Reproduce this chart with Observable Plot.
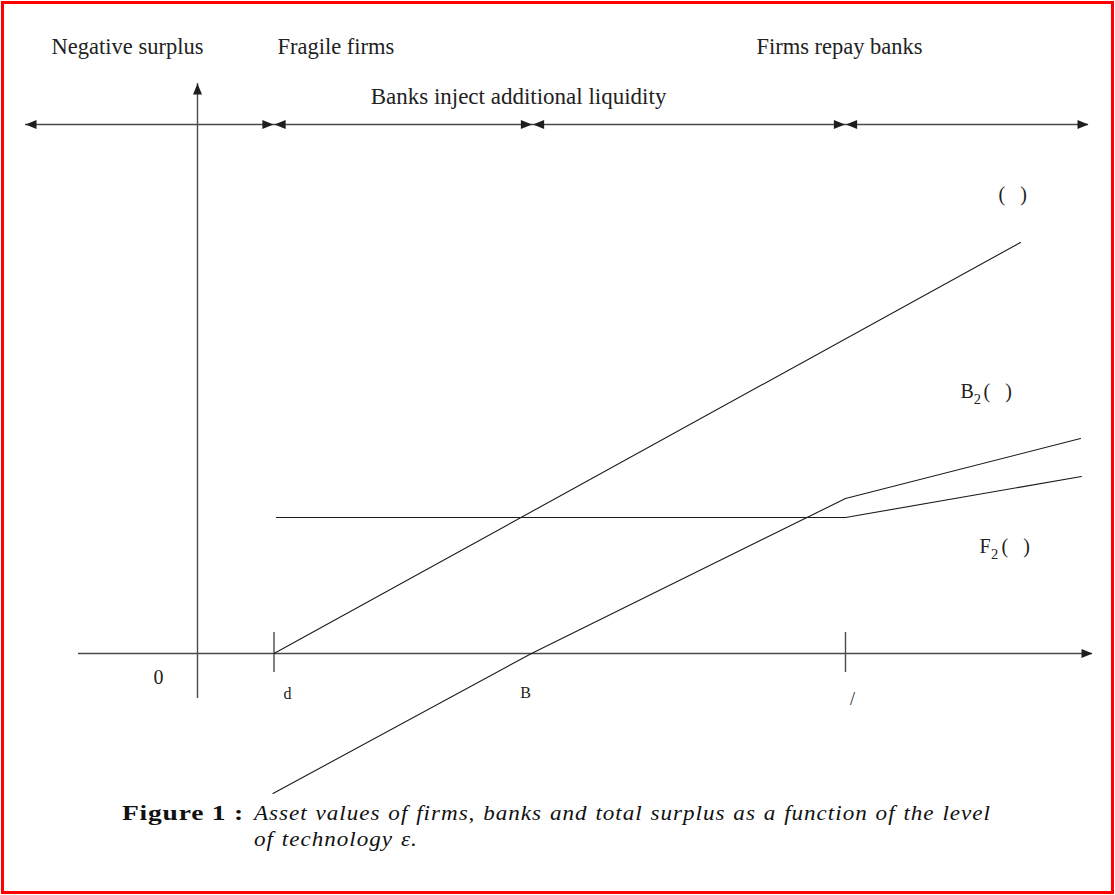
<!DOCTYPE html>
<html>
<head>
<meta charset="utf-8">
<script src="https://cdn.jsdelivr.net/npm/d3@7"></script>
<script src="https://cdn.jsdelivr.net/npm/@observablehq/plot@0.6"></script>
<style>
  body { margin: 0; background: #fff; }
  #chart { position: absolute; left: 0; top: 0; }
  #frame { position: absolute; left: 1px; top: 1px; width: 1107px; height: 887px; border: 3px solid #ff0000; z-index: 2; pointer-events: none; }
  #caption { position: absolute; left: 122px; top: 800px; font-family: "Liberation Serif", serif; font-size: 21px; line-height: 26px; color: #111; }
  #caption .lab { position: absolute; left: 0; top: 0; font-weight: bold; white-space: nowrap; transform-origin: 0 0; letter-spacing: 0.6px; }
  #caption .txt { position: absolute; left: 132px; top: 0; font-style: italic; white-space: nowrap; transform-origin: 0 0; letter-spacing: 0.9px; word-spacing: 1px; }
  #caption .txt span { display: block; width: max-content; }
</style>
</head>
<body>
<div id="chart"></div>
<div id="caption">
  <span class="lab" id="capLab">Figure 1 :</span>
  <span class="txt" id="capTxt"><span id="capL1">Asset values of firms, banks and total surplus as a function of the level</span><span id="capL2">of technology ε.</span></span>
</div>
<div id="frame"></div>
<script>
// ---- data (arbitrary units: 1 unit ≈ 100 px) ----
// regime thresholds on the technology axis
const thresholdNames = ["d", "B", "/"];
const thresholdX = [0.765, 3.35, 6.48];
// regime bands along the top double-arrow line (outer ends + thresholds)
const regimeBounds = [-1.72, 0.765, 3.35, 6.48, 8.91];
const regimeNames = ["Negative surplus", "Fragile firms", "Banks inject additional liquidity", "Firms repay banks"];
// total surplus
const totalX = [0.765, 8.23];
const totalY = [0, 4.11];
// banks' asset value B2
const bankX = [0.755, 3.34, 6.48, 8.83];
const bankY = [-1.40, 0, 1.55, 2.15];
// firms' asset value F2
const firmX = [0.79, 6.48, 8.84];
const firmY = [1.36, 1.36, 1.77];
// curve labels
const curveNames = ["", "B", "F"];
const curveSubs = ["", "2", "2"];

// ---- layout (annotation geometry, not data) ----
const W = 1115, H = 800;
const xDomain = [-1.97, 9.18];
const yDomain = [-1.47, 6.53];
const axisColor = "#4a4a4a";
const lineColor = "#1a1a1a";
const font = "Liberation Serif";
const topLevel = 5.29;
const xAxisExt = [-1.19, 8.95];
const yAxisExt = [-0.45, 5.70];
const tickExt = [-0.19, 0.21];

const regimeLabelPos = [
  {x: -0.70, y: 5.995, anchor: "middle", size: 22.5},
  {x: 0.80, y: 5.995, anchor: "start", size: 22.5},
  {x: 3.21, y: 5.50, anchor: "middle", size: 23},
  {x: 6.42, y: 5.995, anchor: "middle", size: 22.5}
];
const curveLabelPos = [
  {x: 8.01, y: 4.53, subX: null, subY: null, parenX: 8.01},
  {x: 7.63, y: 2.56, subX: 7.763, subY: 2.50, parenX: 7.86},
  {x: 7.82, y: 1.01, subX: 7.935, subY: 0.95, parenX: 8.04}
];
const thresholdLabelPos = [
  {x: 0.86, y: -0.45, anchor: "start", size: 16},
  {x: 3.28, y: -0.44, anchor: "middle", size: 16},
  {x: 6.55, y: -0.51, anchor: "middle", size: 18}
];

// filled arrowhead with its tip at the origin, pointing right
const arrowHead = {
  draw(ctx) {
    ctx.moveTo(0, 0);
    ctx.lineTo(-11, -4.5);
    ctx.lineTo(-11, 4.5);
    ctx.closePath();
  }
};

const pts = (xs, ys) => xs.map((x, i) => ({x, y: ys[i]}));
const gap = 0.006;
const heads = [];
for (let i = 0; i < regimeBounds.length - 1; ++i) {
  heads.push({x: regimeBounds[i] + (i === 0 ? 0 : gap), y: topLevel, rot: 180});
  heads.push({x: regimeBounds[i + 1] - (i === regimeBounds.length - 2 ? 0 : gap), y: topLevel, rot: 0});
}
heads.push({x: xAxisExt[1], y: 0, rot: 0});
heads.push({x: 0, y: yAxisExt[1], rot: -90});

const regimeLabels = regimeNames.map((t, i) => ({t, ...regimeLabelPos[i]}));
const curveLabels = curveNames.map((t, i) => ({t, sub: curveSubs[i], ...curveLabelPos[i]}));
const thrLabels = thresholdNames.map((t, i) => ({t, ...thresholdLabelPos[i]}));
const paren = "(\u00a0\u00a0\u00a0)";

const textSet = (rows, extra) => ["start", "middle", "end"].map(a =>
  Plot.text(rows.filter(d => d.anchor === a), {x: "x", y: "y", text: "t", textAnchor: a, lineAnchor: "bottom", fontFamily: font, fontSize: "size", fill: "#222", ...extra}));

const plot = Plot.plot({
  width: W,
  height: H,
  margin: 0,
  style: {background: "transparent", overflow: "visible"},
  x: {domain: xDomain, axis: null},
  y: {domain: yDomain, axis: null},
  marks: [
    // axes
    Plot.ruleY([0], {x1: xAxisExt[0], x2: xAxisExt[1], stroke: axisColor, strokeWidth: 1.4}),
    Plot.ruleX([0], {y1: yAxisExt[0], y2: yAxisExt[1], stroke: axisColor, strokeWidth: 1.4}),
    Plot.ruleX([thresholdX[0], thresholdX[2]], {y1: tickExt[0], y2: tickExt[1], stroke: axisColor, strokeWidth: 1.4}),
    // regime double-arrow line
    Plot.ruleY([topLevel], {x1: regimeBounds[0], x2: regimeBounds[regimeBounds.length - 1], stroke: axisColor, strokeWidth: 1.4}),
    Plot.dot(heads, {x: "x", y: "y", rotate: "rot", symbol: arrowHead, fill: "#1e1e1e", stroke: "none"}),
    // curves
    Plot.line(pts(totalX, totalY), {x: "x", y: "y", stroke: lineColor, strokeWidth: 1.1}),
    Plot.line(pts(bankX, bankY), {x: "x", y: "y", stroke: lineColor, strokeWidth: 1.1}),
    Plot.line(pts(firmX, firmY), {x: "x", y: "y", stroke: lineColor, strokeWidth: 1.1}),
    // regime labels
    ...textSet(regimeLabels, {}),
    // curve labels
    Plot.text(curveLabels.filter(d => d.t), {x: "x", y: "y", text: "t", textAnchor: "start", lineAnchor: "bottom", fontFamily: font, fontSize: 20, fill: "#222"}),
    Plot.text(curveLabels.filter(d => d.sub), {x: "subX", y: "subY", text: "sub", textAnchor: "start", lineAnchor: "bottom", fontFamily: font, fontSize: 14.5, fill: "#222"}),
    Plot.text(curveLabels, {x: "parenX", y: "y", text: () => paren, textAnchor: "start", lineAnchor: "bottom", fontFamily: font, fontSize: 20, fill: "#222"}),
    // origin and threshold labels
    Plot.text(["0"], {x: -0.39, y: -0.30, text: d => d, lineAnchor: "bottom", fontFamily: font, fontSize: 20, fill: "#222"}),
    ...textSet(thrLabels, {})
  ]
});
document.getElementById("chart").append(plot);

// stretch caption horizontally to the figure's (Computer Modern) widths
function stretch(el, natural, target) {
  el.style.transform = `scaleX(${target / natural})`;
}
const l1 = document.getElementById("capL1").getBoundingClientRect().width;
stretch(document.getElementById("capTxt"), l1, 737);
const lab = document.getElementById("capLab");
stretch(lab, lab.getBoundingClientRect().width, 122);
</script>
</body>
</html>
